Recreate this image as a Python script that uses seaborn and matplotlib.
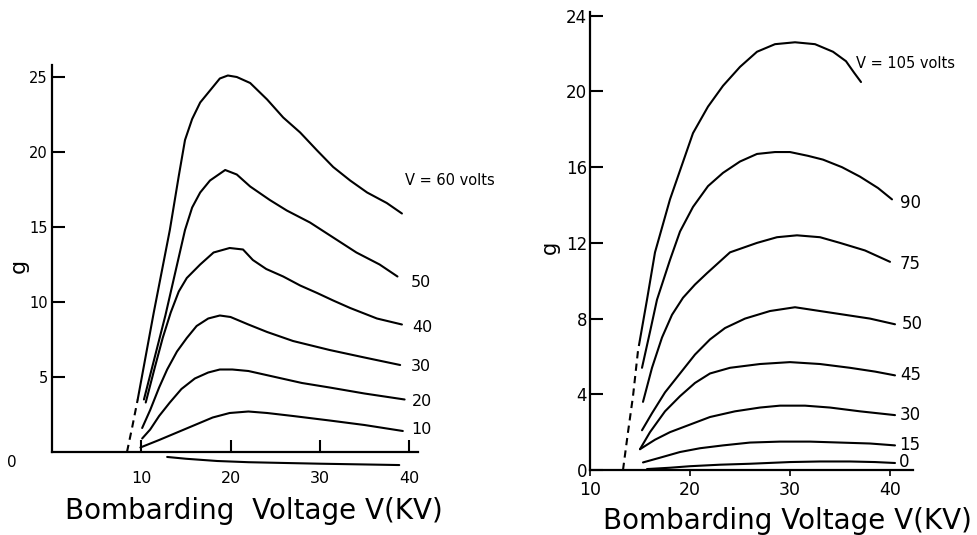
import pandas as pd
import seaborn as sns
import matplotlib.pyplot as plt

# ---- data: (bombarding voltage kV, g) ----
# left panel
left_60 = [(9.6, 3.5), (11.4, 9.3), (13.2, 14.8), (14.2, 18.4), (14.9, 20.8), (15.7, 22.2),
           (16.6, 23.3), (17.7, 24.1), (18.8, 24.9), (19.7, 25.1), (20.7, 25.0), (22.2, 24.6),
           (24.1, 23.5), (25.9, 22.3), (27.8, 21.3), (29.7, 20.1), (31.5, 19.0), (33.4, 18.1),
           (35.3, 17.3), (37.5, 16.6), (39.2, 15.9)]
left_50 = [(10.3, 3.5), (12.7, 9.1), (14.9, 14.8), (15.7, 16.3), (16.6, 17.3), (17.7, 18.1),
           (19.4, 18.8), (20.7, 18.5), (22.2, 17.7), (24.4, 16.8), (26.3, 16.1), (28.9, 15.3),
           (31.5, 14.3), (34.1, 13.3), (36.7, 12.5), (38.7, 11.7)]
left_40 = [(10.5, 3.3), (11.5, 5.6), (12.4, 7.6), (13.3, 9.3), (14.2, 10.7), (15.1, 11.6),
           (16.6, 12.5), (18.1, 13.3), (19.9, 13.6), (21.4, 13.5), (22.5, 12.8), (24.0, 12.2),
           (25.9, 11.7), (27.8, 11.1), (29.7, 10.6), (31.5, 10.1), (33.4, 9.6), (36.4, 8.9),
           (39.2, 8.5)]
left_30 = [(10.1, 1.6), (11.0, 2.8), (12.0, 4.3), (12.9, 5.5), (14.0, 6.7), (15.1, 7.6),
           (16.2, 8.4), (17.5, 8.9), (18.8, 9.1), (20.0, 9.0), (22.0, 8.5), (24.1, 8.0),
           (27.0, 7.4), (31.1, 6.8), (35.0, 6.3), (39.0, 5.8)]
left_20 = [(10.1, 0.9), (11.0, 1.5), (12.0, 2.4), (13.2, 3.3), (14.5, 4.2), (16.0, 4.9),
           (17.5, 5.3), (18.8, 5.5), (20.2, 5.5), (22.0, 5.4), (25.0, 5.0), (28.0, 4.6),
           (31.1, 4.3), (35.0, 3.9), (39.5, 3.5)]
left_10 = [(9.9, 0.3), (12.0, 0.8), (14.0, 1.3), (16.0, 1.8), (18.0, 2.3), (19.9, 2.6),
           (22.0, 2.7), (24.1, 2.6), (27.0, 2.4), (31.1, 2.1), (35.0, 1.8), (39.3, 1.4)]
left_0 = [(12.9, -0.33), (15.0, -0.45), (18.5, -0.6), (22.0, -0.68), (25.9, -0.73),
          (30.0, -0.78), (35.0, -0.83), (38.9, -0.87)]
left_dash = [(8.4, 0.0), (9.0, 1.7), (9.6, 3.5)]
left_volts = [60, 50, 40, 30, 20, 10, 0]
left_labels = ["V = 60 volts", "50", "40", "30", "20", "10"]
left_label_pos = [(39.5, 18.1), (40.2, 11.3), (40.3, 8.3), (40.2, 5.7), (40.3, 3.4), (40.2, 1.5)]

# right panel
right_105 = [(15.0, 6.9), (15.7, 9.0), (16.5, 11.5), (18.0, 14.3), (20.3, 17.8), (21.8, 19.2),
             (23.3, 20.3), (25.0, 21.3), (26.7, 22.1), (28.5, 22.5), (30.5, 22.6), (32.5, 22.5),
             (34.3, 22.1), (35.6, 21.6), (36.4, 21.0), (37.1, 20.5)]
right_90 = [(15.2, 5.4), (16.0, 7.3), (16.7, 9.0), (18.0, 11.1), (19.0, 12.6), (20.3, 13.9),
            (21.8, 15.0), (23.3, 15.7), (25.0, 16.3), (26.7, 16.7), (28.5, 16.8), (30.0, 16.8),
            (31.8, 16.6), (33.3, 16.4), (35.2, 16.0), (37.0, 15.5), (38.8, 14.9), (40.2, 14.3)]
right_75 = [(15.3, 3.6), (16.2, 5.4), (17.2, 7.0), (18.2, 8.2), (19.3, 9.1), (20.5, 9.8),
            (21.7, 10.4), (24.0, 11.5), (26.7, 12.0), (28.7, 12.3), (30.7, 12.4), (33.0, 12.3),
            (35.0, 12.0), (37.5, 11.6), (40.0, 11.0)]
right_50 = [(15.2, 2.1), (16.2, 3.0), (17.5, 4.1), (19.0, 5.1), (20.5, 6.1), (22.0, 6.9),
            (23.5, 7.5), (25.5, 8.0), (28.0, 8.4), (30.5, 8.6), (33.0, 8.4), (35.5, 8.2),
            (38.0, 8.0), (40.5, 7.7)]
right_45 = [(15.0, 1.1), (16.0, 2.0), (17.5, 3.1), (19.0, 3.9), (20.5, 4.6), (22.0, 5.1),
            (24.0, 5.4), (27.0, 5.6), (30.0, 5.7), (33.0, 5.6), (36.0, 5.4), (38.5, 5.2),
            (40.5, 5.0)]
right_30 = [(15.0, 1.1), (16.5, 1.6), (18.0, 2.0), (20.0, 2.4), (22.0, 2.8), (24.5, 3.1),
            (27.0, 3.3), (29.0, 3.4), (31.5, 3.4), (34.0, 3.3), (37.0, 3.1), (40.5, 2.9)]
right_15 = [(15.3, 0.4), (17.0, 0.65), (19.0, 0.95), (21.0, 1.15), (23.3, 1.3), (26.0, 1.45),
            (29.0, 1.5), (32.0, 1.5), (35.0, 1.45), (38.0, 1.4), (40.5, 1.3)]
right_0 = [(15.7, 0.05), (18.0, 0.12), (20.0, 0.2), (23.0, 0.28), (26.0, 0.33), (30.0, 0.42),
           (33.0, 0.45), (36.0, 0.45), (38.5, 0.42), (40.5, 0.37)]
right_dash = [(13.3, 0.0), (13.8, 2.0), (14.3, 3.9), (14.8, 6.3), (15.0, 6.9)]
right_volts = [105, 90, 75, 50, 45, 30, 15, 0]
right_labels = ["V = 105 volts", "90", "75", "50", "45", "30", "15", "0"]
right_label_pos = [(36.6, 21.5), (41.0, 14.1), (41.0, 10.9), (41.2, 7.7), (41.0, 5.0),
                   (41.0, 2.9), (40.9, 1.3), (40.9, 0.4)]


def to_frame(curves, volts):
    rows = []
    for pts, v in zip(curves, volts):
        for kv, g in pts:
            rows.append({"kV": kv, "g": g, "V": v})
    return pd.DataFrame(rows)


left_df = to_frame([left_60, left_50, left_40, left_30, left_20, left_10, left_0], left_volts)
right_df = to_frame([right_105, right_90, right_75, right_50, right_45, right_30, right_15, right_0],
                    right_volts)

sns.set_theme(style="white")
plt.rcParams["font.family"] = ["DejaVu Sans"]
for key in ["text.color", "axes.labelcolor", "xtick.color", "ytick.color"]:
    plt.rcParams[key] = "black"

fig = plt.figure(figsize=(9.78, 5.35), dpi=100)
W, H = 978, 535
ax1 = fig.add_axes([52 / W, 83 / H, 366 / W, 387 / H])
ax2 = fig.add_axes([590 / W, 65 / H, 323 / W, 458 / H])

for ax, df, dash in [(ax1, left_df, left_dash), (ax2, right_df, right_dash)]:
    sns.lineplot(data=df, x="kV", y="g", units="V", estimator=None, sort=False,
                 color="black", linewidth=1.5, ax=ax, legend=False)
    for line in ax.lines:
        line.set_clip_on(False)
        line.set_solid_joinstyle("round")
    dd = pd.DataFrame(dash, columns=["kV", "g"])
    sns.lineplot(data=dd, x="kV", y="g", sort=False, color="black", linewidth=1.5,
                 linestyle=(0, (3.5, 2.5)), ax=ax)
    sns.despine(ax=ax)
    for s in ["left", "bottom"]:
        ax.spines[s].set_color("black")
        ax.spines[s].set_linewidth(1.6)
    ax.set_ylabel("")
    ax.set_xlabel("")

# left panel axes
ax1.set_xlim(0, 41)
ax1.set_ylim(0, 25.8)
ax1.set_xticks([10, 20, 30, 40])
ax1.set_yticks([5, 10, 15, 20, 25])
ax1.tick_params(axis="y", direction="in", length=9, width=1.5, pad=3, labelsize=10.5, left=True)
ax1.tick_params(axis="x", direction="in", length=8.5, width=1.5, pad=14, labelsize=11.5, bottom=True)
ax1.text(-0.11, -0.026, "0", transform=ax1.transAxes, ha="center", va="center", fontsize=11)
ax1.text(-0.09, 0.48, "g", transform=ax1.transAxes, ha="center", va="center",
         fontsize=16, rotation=90)
for txt, (x, y) in zip(left_labels, left_label_pos):
    ax1.text(x, y, txt, ha="left", va="center", fontsize=10.5 if txt.startswith("V") else 11.5,
             clip_on=False)
ax1.set_xlabel("Bombarding  Voltage V(KV)", fontsize=20, ha="left", va="center")
ax1.xaxis.set_label_coords(0.036, -0.152)

# right panel axes
ax2.set_xlim(10, 42.3)
ax2.set_ylim(0, 24.2)
ax2.set_xticks([10, 20, 30, 40])
ax2.set_yticks([0, 4, 8, 12, 16, 20, 24])
ax2.tick_params(axis="y", direction="in", length=9, width=1.5, pad=2, labelsize=12, left=True)
ax2.tick_params(axis="x", direction="out", length=4, width=1.2, pad=4, labelsize=12.5, bottom=True)
ax2.text(-0.125, 0.485, "g", transform=ax2.transAxes, ha="center", va="center",
         fontsize=15, rotation=90)
for txt, (x, y) in zip(right_labels, right_label_pos):
    ax2.text(x, y, txt, ha="left", va="center", fontsize=10.5 if txt.startswith("V") else 12,
             clip_on=False)
ax2.set_xlabel("Bombarding Voltage V(KV)", fontsize=20, ha="left", va="center")
ax2.xaxis.set_label_coords(0.04, -0.112)

fig.savefig("out.png", dpi=100)
